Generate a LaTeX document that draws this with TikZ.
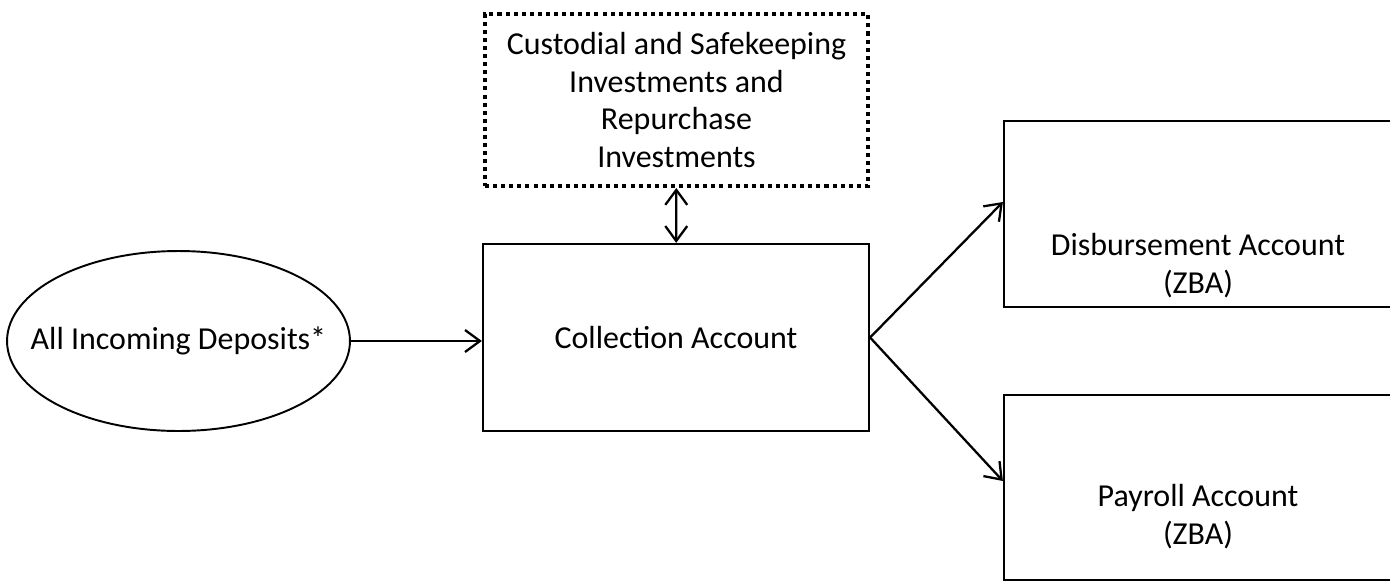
\documentclass[tikz,border=0pt]{standalone}
\usepackage{fontspec}
\setmainfont{Carlito}
\usetikzlibrary{arrows.meta,positioning,shapes.geometric}

\begin{document}
\begin{tikzpicture}[x=0.02cm,y=-0.02cm,
  font=\fontsize{18.2}{21.5}\selectfont,
  acct/.style={rectangle,draw,line width=1.3pt,inner sep=0pt,align=center},
  barb/.tip={Straight Barb[length=8.5pt,width=12.5pt]},
  flow/.style={-barb,line width=1.3pt}]
\clip (0,0) rectangle (1390,582);
% source of all money
\node[ellipse,draw,line width=1.1pt,inner sep=0pt,minimum width=6.86cm,minimum height=3.6cm,
  label={center:All Incoming Deposits*}] (deposits) at (178.5,341) {};
\node[acct,minimum width=7.72cm,minimum height=3.74cm] (collect) at (676,337.5) {Collection Account};
% investments, dotted border
\node[acct,line width=2.3pt,dash pattern=on 2.3pt off 2.3pt,minimum width=7.66cm,minimum height=3.44cm] (invest) at (676.5,100)
  {Custodial and Safekeeping\\Investments and\\Repurchase\\Investments};
% zero balance accounts
\node[acct,minimum width=7.76cm,minimum height=3.72cm,
  label={[yshift=-1.04cm,align=center]center:Disbursement Account\\(ZBA)}] (disburse) at (1198,214) {};
\node[acct,minimum width=7.76cm,minimum height=3.7cm,
  label={[yshift=-0.58cm,align=center]center:Payroll Account\\(ZBA)}] (payroll) at (1198,487.5) {};
\draw[flow] (deposits) -- (deposits -| collect.west);
\draw[flow,barb-barb] (invest) -- (collect);
\draw[flow] (collect.east) -- ([yshift=0.24cm]disburse.west);
\draw[flow] (collect.east) -- ([yshift=0.13cm]payroll.west);
\end{tikzpicture}
\end{document}
